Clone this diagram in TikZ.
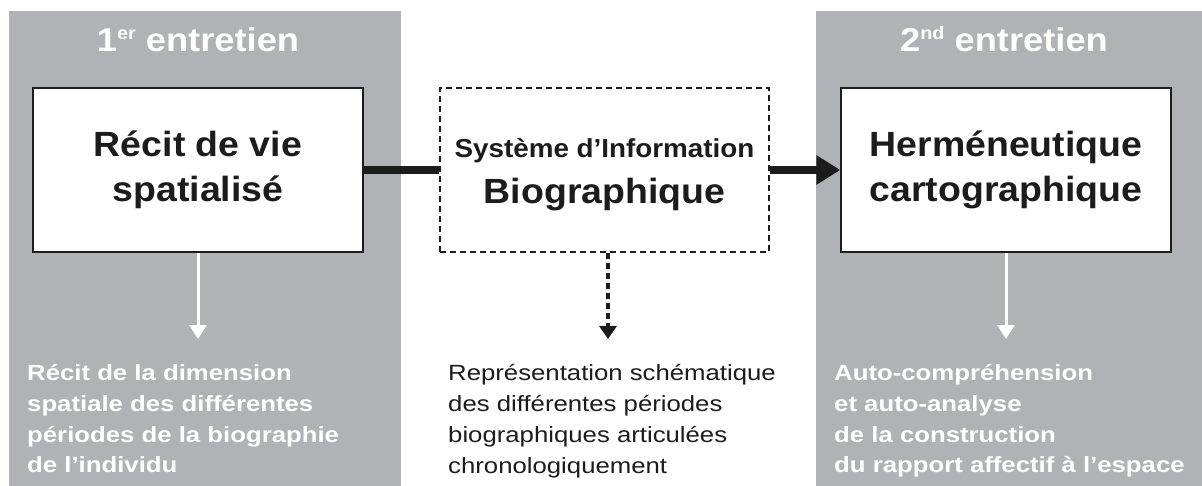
\documentclass[tikz,border=0pt]{standalone}
\usepackage{fontspec}
\setmainfont{Liberation Sans}
\newfontfamily\lowfont{Liberation Sans}[FakeStretch=1.17]
\newfontfamily\titlefont{Liberation Sans}[FakeStretch=1.10]
\newfontfamily\boxfont{Liberation Sans}[FakeStretch=1.07]
\usetikzlibrary{arrows.meta}
\definecolor{panelgray}{RGB}{177,178,182}
\definecolor{inkdark}{RGB}{28,28,28}
\begin{document}
\begin{tikzpicture}[x=1pt,y=-1pt,
  panel/.style={fill=panelgray},
  mainbox/.style={draw=inkdark, line width=1.3pt, fill=white, minimum width=330pt, minimum height=164pt, align=center, inner sep=0pt, text=inkdark, font=\boxfont\fontsize{35}{44.5}\selectfont\bfseries},
  dashbox/.style={draw=inkdark, line width=1.5pt, dash pattern=on 6pt off 4pt, fill=white, minimum width=329pt, minimum height=164pt, align=center, inner sep=0pt, text=inkdark, font=\boxfont\fontsize{35}{46}\selectfont\bfseries},
  titletext/.style={text=white, font=\titlefont\fontsize{33}{40}\selectfont\bfseries, inner sep=0pt, anchor=base},
  lowtext/.style={anchor=north west, align=left, inner sep=0pt},
  thickline/.style={draw=inkdark, line width=8pt},
  whitearrow/.style={draw=white, line width=3pt, -{Triangle[length=14pt,width=17pt]}},
  dasharrow/.style={draw=inkdark, line width=4pt, dash pattern=on 6pt off 4pt, -{Triangle[length=13pt,width=17pt]}}
]
\useasboundingbox (0,0) rectangle (1202,486);
\fill[panel] (9,11) rectangle (401,486);
\fill[panel] (816,11) rectangle (1202,486);

\node[titletext] (t1) at (198,52) {1\raisebox{12pt}{\fontsize{18}{18}\selectfont er} entretien};
\node[titletext] (t2) at (1004,52) {2\raisebox{12pt}{\fontsize{18}{18}\selectfont nd} entretien};

\node[mainbox] (recit) at (198,170) {Récit de vie\\spatialisé};
\node[dashbox] (sib) at (604.5,170) {\rule{0pt}{28pt}{\fontsize{26}{30}\selectfont Système d’Information}\\Biographique};
\node[mainbox] (herm) at (1006,170) {Herméneutique\\cartographique};

\draw[thickline] (recit.east) -- (sib.west);
\draw[thickline, -{Triangle[length=24pt,width=28pt]}] (sib.east) -- (herm.west);

\coordinate (e1) at (198,339);
\coordinate (e2) at (608,339);
\coordinate (e3) at (1006,339);
\draw[whitearrow] (recit.south) -- (e1);
\draw[dasharrow] (sib.south -| e2) -- (e2);
\draw[whitearrow] (herm.south) -- (e3);

\node[lowtext, text=white, font=\lowfont\fontsize{22}{30.7}\selectfont\bfseries] (d1) at (27,364.5) {Récit de la dimension\\spatiale des différentes\\périodes de la biographie\\de l’individu};
\node[lowtext, text=inkdark, font=\lowfont\fontsize{22}{30.7}\selectfont] (d2) at (448,364.5) {Représentation schématique\\des différentes périodes\\biographiques articulées\\chronologiquement};
\node[lowtext, text=white, font=\lowfont\fontsize{22}{30.7}\selectfont\bfseries] (d3) at (834,364.5) {Auto-compréhension\\et auto-analyse\\de la construction\\du rapport affectif à l’espace};
\end{tikzpicture}
\end{document}
